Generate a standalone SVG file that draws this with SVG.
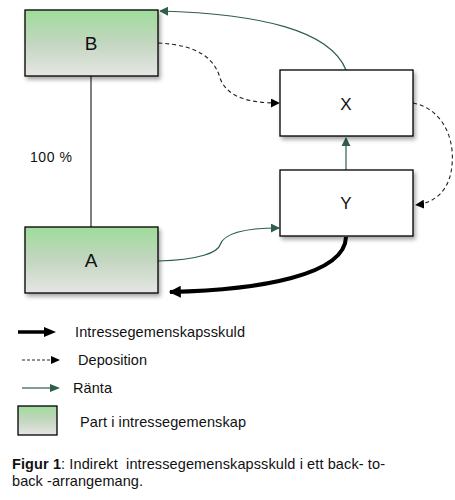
<svg xmlns="http://www.w3.org/2000/svg" width="455" height="500" viewBox="0 0 455 500">
<style>
.box{stroke:#000;stroke-width:1.3}
.part{fill:url(#g)}
.plain{fill:#fff}
.lbl{font-family:"Liberation Sans",Arial,sans-serif;fill:#111}
.green{fill:none;stroke:#2f5f48;stroke-width:1.2}
.dash{fill:none;stroke:#222;stroke-width:1.1;stroke-dasharray:4 3}
.thick{fill:none;stroke:#000;stroke-width:4}
</style>
<defs>
<linearGradient id="g" x1="0" y1="0" x2="0" y2="1">
<stop offset="0" stop-color="#9fdc9a"/>
<stop offset="0.5" stop-color="#c3d6c0"/>
<stop offset="1" stop-color="#e6e6e4"/>
</linearGradient>
<filter id="sh" x="-10%" y="-10%" width="130%" height="140%">
<feGaussianBlur in="SourceAlpha" stdDeviation="2"/>
<feOffset dx="2" dy="3"/>
<feComponentTransfer><feFuncA type="linear" slope="0.35"/></feComponentTransfer>
<feMerge><feMergeNode/><feMergeNode in="SourceGraphic"/></feMerge>
</filter>
<marker id="ag" viewBox="0 0 10 10" refX="9" refY="5" markerWidth="9" markerHeight="9" markerUnits="userSpaceOnUse" orient="auto"><path d="M0,0L10,5L0,10z" fill="#2f5f48"/></marker>
<marker id="ab" viewBox="0 0 10 10" refX="9" refY="5" markerWidth="9" markerHeight="9" markerUnits="userSpaceOnUse" orient="auto"><path d="M0,0L10,5L0,10z" fill="#000"/></marker>
<marker id="at" viewBox="0 0 10 10" refX="9" refY="5" markerWidth="14" markerHeight="12" markerUnits="userSpaceOnUse" orient="auto"><path d="M0,0L10,5L0,10z" fill="#000"/></marker>
</defs>

<g id="connectors">
<line x1="91" y1="76" x2="91" y2="227" stroke="#000" stroke-width="1"/>
<path class="green" d="M346,70 C330,30 260,14 160,11" marker-end="url(#ag)"/>
<path class="dash" d="M158,43 C200,45 215,60 220,78 C228,100 255,103 279,103" marker-end="url(#ab)"/>
<path class="dash" d="M413,103 C440,108 455,135 452,165 C450,190 435,203 416,205" marker-end="url(#ab)"/>
<path class="green" d="M346,170 L346,138" marker-end="url(#ag)"/>
<path class="green" d="M158,261 C200,260 218,252 220,245 C224,232 250,228 279,228" marker-end="url(#ag)"/>
<path class="thick" d="M346,237 C345,275 260,290 170,292" marker-end="url(#at)"/>
</g>

<g id="B"><rect class="box part" x="25" y="10" width="133" height="66" filter="url(#sh)"/><text class="lbl" x="91" y="50" font-size="19" text-anchor="middle">B</text></g>
<g id="A"><rect class="box part" x="25" y="227" width="133" height="66" filter="url(#sh)"/><text class="lbl" x="91" y="267" font-size="19" text-anchor="middle">A</text></g>
<g id="X"><rect class="box plain" x="280" y="70" width="133" height="66" filter="url(#sh)"/><text class="lbl" x="346" y="110" font-size="17" text-anchor="middle">X</text></g>
<g id="Y"><rect class="box plain" x="280" y="170" width="133" height="66" filter="url(#sh)"/><text class="lbl" x="346" y="209" font-size="17" text-anchor="middle">Y</text></g>

<text class="lbl" x="30" y="162" font-size="14" textLength="42">100 %</text>

<g id="legend">
<line x1="18" y1="332" x2="46" y2="332" stroke="#000" stroke-width="3.5"/>
<path d="M44,327L56,332L44,337z" fill="#000"/>
<text class="lbl" x="75" y="337" font-size="14.5" textLength="170">Intressegemenskapsskuld</text>
<line x1="22" y1="360" x2="51" y2="360" stroke="#222" stroke-width="1" stroke-dasharray="3 2"/>
<path d="M51,356L60,360L51,364z" fill="#000"/>
<text class="lbl" x="78" y="365" font-size="14.5" textLength="69">Deposition</text>
<line x1="22" y1="388" x2="52" y2="388" stroke="#2f5f48" stroke-width="1.2"/>
<path d="M50,384L60,388L50,392z" fill="#2f5f48"/>
<text class="lbl" x="73" y="393" font-size="14.5" textLength="39">Ränta</text>
<rect class="box part" x="18" y="406" width="39" height="29" stroke-width="1"/>
<text class="lbl" x="80" y="427" font-size="14.5" textLength="166">Part i intressegemenskap</text>
</g>

<g id="caption">
<text class="lbl" x="12" y="469" font-size="14.5" textLength="373" xml:space="preserve"><tspan font-weight="bold">Figur 1</tspan>: Indirekt  intressegemenskapsskuld i ett back- to-</text>
<text class="lbl" x="12" y="486" font-size="14.5" textLength="131">back -arrangemang.</text>
</g>
</svg>
